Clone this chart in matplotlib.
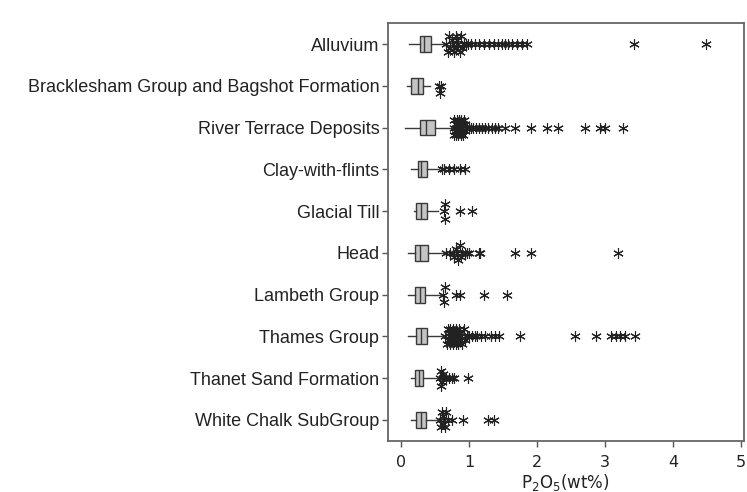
import numpy as np
import matplotlib
matplotlib.use('Agg')
from matplotlib import pyplot as plt

units = ['Alluvium', 'Bracklesham Group and Bagshot Formation', 'River Terrace Deposits',
         'Clay-with-flints', 'Glacial Till', 'Head', 'Lambeth Group', 'Thames Group',
         'Thanet Sand Formation', 'White Chalk SubGroup']

# box statistics (P2O5 wt%)
whis_lo = [0.12, 0.08, 0.06, 0.15, 0.19, 0.10, 0.10, 0.10, 0.14, 0.15]
q1      = [0.27, 0.15, 0.28, 0.24, 0.22, 0.20, 0.20, 0.22, 0.20, 0.22]
med     = [0.33, 0.24, 0.37, 0.29, 0.29, 0.28, 0.28, 0.29, 0.26, 0.29]
q3      = [0.44, 0.32, 0.49, 0.38, 0.38, 0.39, 0.35, 0.38, 0.32, 0.37]
whis_hi = [0.64, 0.42, 0.76, 0.56, 0.54, 0.64, 0.59, 0.64, 0.54, 0.54]

# extreme values (asterisks)
out_alluvium = [0.66, 0.68, 0.70, 0.72, 0.74, 0.76, 0.78, 0.80, 0.80, 0.82, 0.84, 0.86, 0.88,
                0.90, 0.92, 0.95, 0.98, 1.02, 1.08, 1.15, 1.22, 1.29, 1.36, 1.42, 1.48,
                1.52, 1.57, 1.63, 1.70, 1.78, 1.85, 3.42, 4.48]
out_brack = [0.55, 0.57, 0.59]
out_rtd = [0.77, 0.78, 0.78, 0.79, 0.80, 0.80, 0.81, 0.82, 0.82, 0.83, 0.84, 0.84, 0.85,
           0.86, 0.86, 0.87, 0.88, 0.88, 0.89, 0.90, 0.90, 0.91, 0.92, 0.93, 0.94,
           0.95, 0.97, 1.00, 1.03, 1.06, 1.10, 1.14, 1.18,
           1.23, 1.28, 1.33, 1.38, 1.42, 1.52, 1.67, 1.91, 2.14, 2.31, 2.70, 2.92,
           3.00, 3.26]
out_clay = [0.60, 0.63, 0.70, 0.78, 0.86, 0.93]
out_till = [0.63, 0.64, 0.65, 0.87, 1.04]
out_head = [0.66, 0.72, 0.76, 0.78, 0.80, 0.82, 0.84, 0.86, 0.88, 0.90, 0.93, 0.96,
            1.00, 1.14, 1.16, 1.67, 1.91, 3.18]
out_lambeth = [0.62, 0.63, 0.64, 0.80, 0.87, 1.22, 1.56]
out_thames = [0.65, 0.67, 0.68, 0.69, 0.70, 0.71, 0.72, 0.72, 0.73, 0.74, 0.75, 0.76,
              0.76, 0.77, 0.78, 0.79, 0.80, 0.80, 0.81, 0.82, 0.83, 0.84, 0.85, 0.86,
              0.87, 0.88, 0.90, 0.92, 0.94,
              0.96, 1.00, 1.04, 1.08, 1.12, 1.17, 1.23, 1.32, 1.38, 1.44, 1.74, 2.55,
              2.87, 3.09, 3.16, 3.22, 3.29, 3.44]
out_thanet = [0.57, 0.58, 0.59, 0.60, 0.61, 0.62, 0.66, 0.70, 0.74, 0.77, 0.98]
out_chalk = [0.57, 0.59, 0.60, 0.61, 0.62, 0.63, 0.64, 0.66, 0.68, 0.74, 0.91, 1.28, 1.37]

outliers = [out_alluvium, out_brack, out_rtd, out_clay, out_till, out_head,
            out_lambeth, out_thames, out_thanet, out_chalk]

plt.rcParams['font.family'] = ['Liberation Sans', 'DejaVu Sans']
fig = plt.figure(figsize=(7.47, 4.92), dpi=100)
ax = fig.add_axes([0.519, 0.104, 0.477, 0.849])

stats = []
for i, name in enumerate(units):
    stats.append(dict(label=name, whislo=whis_lo[i], q1=q1[i], med=med[i],
                      q3=q3[i], whishi=whis_hi[i], fliers=[]))

pos = np.arange(1, len(units) + 1)
edge = '#3a3a3a'
ax.bxp(stats, positions=pos, vert=False, widths=0.38, patch_artist=True,
       showfliers=False,
       boxprops=dict(facecolor='#c4c4c4', edgecolor=edge, linewidth=1.0),
       medianprops=dict(color=edge, linewidth=1.0),
       whiskerprops=dict(color=edge, linewidth=1.0),
       capprops=dict(linewidth=0))

# piled-up values spread a little up and down, like the original
shifts = [0.0, 0.18, -0.18, 0.09, -0.09]
for p, vals in zip(pos, outliers):
    ys = []
    for k, v in enumerate(vals):
        dense = sum(1 for w in vals if abs(w - v) < 0.025) > 2
        ys.append(p + (shifts[k % len(shifts)] if dense else 0.0))
    ax.plot(vals, ys, linestyle='none', marker=(6, 2, 0), markersize=7.5,
            color='#222222', markeredgewidth=0.8)

ax.set_ylim(10.5, 0.5)
ax.set_xlim(-0.2, 5.04)
ax.set_yticks(pos)
ax.set_yticklabels(units, fontsize=13, color='#222222')
ax.set_xticks([0, 1, 2, 3, 4, 5])
ax.set_xticklabels(['0', '1', '2', '3', '4', '5'], fontsize=11.5, family='DejaVu Sans',
                   color='#222222')
ax.set_xlabel(r'$\mathregular{P_2O_5}$(wt%)', fontsize=12, family='DejaVu Sans',
              color='#222222', labelpad=2)
ax.tick_params(axis='both', direction='out', length=4, color='#555555', width=1.0)
ax.tick_params(axis='x', pad=6)
ax.tick_params(axis='y', pad=2)
for s in ax.spines.values():
    s.set_color('#666666')
    s.set_linewidth(1.3)

fig.savefig('out.png', dpi=100)
